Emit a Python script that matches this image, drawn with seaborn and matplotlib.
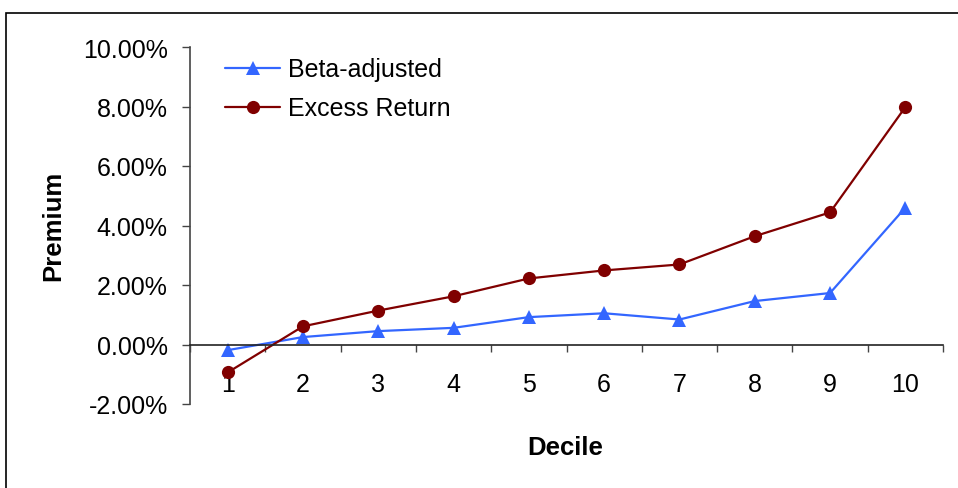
import matplotlib
matplotlib.use("Agg")
import matplotlib.pyplot as plt
import matplotlib.patches as mpatches
from matplotlib.ticker import FuncFormatter, FixedLocator
import seaborn as sns
import pandas as pd

deciles = ["1", "2", "3", "4", "5", "6", "7", "8", "9", "10"]
beta_adjusted = [-0.19, 0.25, 0.45, 0.56, 0.92, 1.05, 0.84, 1.46, 1.73, 4.60]
excess_return = [-0.94, 0.61, 1.14, 1.62, 2.22, 2.49, 2.69, 3.64, 4.44, 7.98]
y_ticks = [-2, 0, 2, 4, 6, 8, 10]

sns.set_theme(style="white")
plt.rcParams["font.family"] = ["Liberation Sans", "DejaVu Sans"]
plt.rcParams["text.color"] = "black"

W, H = 958, 489
fig = plt.figure(figsize=(W / 100, H / 100), dpi=100)
ax = fig.add_axes([190 / W, (H - 405) / H, (943 - 190) / W, (405 - 48) / H])

# outer chart frame (open on the right and bottom)
fig.add_artist(mpatches.Rectangle((5.5 / W, -0.1), 1.2, (H - 13.5) / H + 0.1,
                                  transform=fig.transFigure, fill=False,
                                  edgecolor="black", linewidth=1.2))

pos = list(range(len(deciles)))
df = pd.DataFrame({"pos": pos + pos,
                   "value": beta_adjusted + excess_return,
                   "series": ["Beta-adjusted"] * 10 + ["Excess Return"] * 10})

sns.lineplot(data=df[df.series == "Beta-adjusted"], x="pos", y="value", ax=ax,
             color="#3366FF", marker="^", markersize=10, markeredgewidth=0,
             linewidth=1.6, label="Beta-adjusted")
sns.lineplot(data=df[df.series == "Excess Return"], x="pos", y="value", ax=ax,
             color="#800000", marker="o", markersize=9.5, markeredgewidth=0,
             linewidth=1.6, label="Excess Return")

ax.set_xlim(-0.5, 9.5)
ax.set_ylim(-2, 10)
ax.set_yticks(y_ticks)
ax.yaxis.set_major_formatter(FuncFormatter(lambda v, _: f"{v:.2f}%"))

ax.set_xticks(pos)
ax.set_xticklabels(deciles)
ax.xaxis.set_minor_locator(FixedLocator([p - 0.5 for p in pos] + [9.5]))
ax.tick_params(axis="x", which="major", length=0, pad=20, labelsize=18, colors="black")
ax.tick_params(axis="x", which="minor", length=5, width=1, color="#444444", direction="out", bottom=True)
ax.tick_params(axis="y", which="major", length=6, width=1, color="#444444", direction="out",
               left=True, labelsize=18, pad=10, labelcolor="black")

for s in ("top", "right"):
    ax.spines[s].set_visible(False)
ax.spines["bottom"].set_position(("data", 0))
ax.spines["bottom"].set_color("#222222")
ax.spines["bottom"].set_linewidth(1.2)
ax.spines["left"].set_color("#444444")
ax.spines["left"].set_linewidth(1.2)

ax.set_xlabel("")
ax.set_ylabel("")
fig.text(565 / W, 1 - 448 / H, "Decile", ha="center", va="center",
         fontsize=18.5, fontweight="bold", color="black")
fig.text(53 / W, 1 - 226 / H, "Premium", ha="center", va="center",
         rotation=90, fontsize=18.5, fontweight="bold", color="black")

leg = ax.legend(loc="upper left", bbox_to_anchor=(20 / (943 - 190), 1.013), frameon=False,
                fontsize=18, handlelength=2.2, handletextpad=0.3, labelspacing=0.6,
                borderaxespad=0.2)
for t in leg.get_texts():
    t.set_color("black")

fig.savefig("out.png", dpi=100)
